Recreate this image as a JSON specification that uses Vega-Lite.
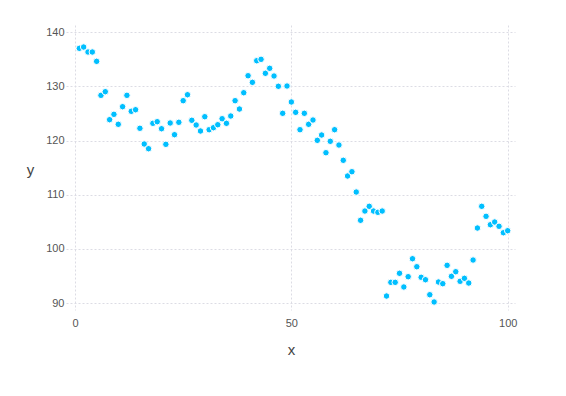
{
  "$schema": "https://vega.github.io/schema/vega-lite/v6.json",
  "autosize": "none",
  "padding": {"left": 66, "top": 25, "right": 51, "bottom": 86},
  "width": 449,
  "height": 285,
  "background": "white",
  "config": {
    "view": {"stroke": null},
    "font": "Liberation Sans"
  },
  "data": {
    "values": [
      {"x": 1, "y": 137.04}, {"x": 2, "y": 137.28}, {"x": 3, "y": 136.36}, {"x": 4, "y": 136.36}, {"x": 5, "y": 134.64},
      {"x": 6, "y": 128.36}, {"x": 7, "y": 129.03}, {"x": 8, "y": 123.86}, {"x": 9, "y": 124.85}, {"x": 10, "y": 123.01},
      {"x": 11, "y": 126.26}, {"x": 12, "y": 128.36}, {"x": 13, "y": 125.41}, {"x": 14, "y": 125.7}, {"x": 15, "y": 122.27},
      {"x": 16, "y": 119.37}, {"x": 17, "y": 118.5}, {"x": 18, "y": 123.19}, {"x": 19, "y": 123.49}, {"x": 20, "y": 122.19},
      {"x": 21, "y": 119.31}, {"x": 22, "y": 123.25}, {"x": 23, "y": 121.09}, {"x": 24, "y": 123.38}, {"x": 25, "y": 127.37},
      {"x": 26, "y": 128.47}, {"x": 27, "y": 123.75}, {"x": 28, "y": 122.88}, {"x": 29, "y": 121.77}, {"x": 30, "y": 124.41},
      {"x": 31, "y": 122.01}, {"x": 32, "y": 122.38}, {"x": 33, "y": 122.93}, {"x": 34, "y": 124.04}, {"x": 35, "y": 123.19},
      {"x": 36, "y": 124.54}, {"x": 37, "y": 127.37}, {"x": 38, "y": 125.83}, {"x": 39, "y": 128.84}, {"x": 40, "y": 131.98},
      {"x": 41, "y": 130.76}, {"x": 42, "y": 134.75}, {"x": 43, "y": 135.01}, {"x": 44, "y": 132.43}, {"x": 45, "y": 133.35},
      {"x": 46, "y": 131.93}, {"x": 47, "y": 130.03}, {"x": 48, "y": 125.04}, {"x": 49, "y": 130.08}, {"x": 50, "y": 127.13},
      {"x": 51, "y": 125.22}, {"x": 52, "y": 122.01}, {"x": 53, "y": 125.04}, {"x": 54, "y": 123.01}, {"x": 55, "y": 123.8},
      {"x": 56, "y": 120.05}, {"x": 57, "y": 121.03}, {"x": 58, "y": 117.76}, {"x": 59, "y": 119.87}, {"x": 60, "y": 122.01},
      {"x": 61, "y": 119.18}, {"x": 62, "y": 116.36}, {"x": 63, "y": 113.46}, {"x": 64, "y": 114.25}, {"x": 65, "y": 110.5},
      {"x": 66, "y": 105.28}, {"x": 67, "y": 106.99}, {"x": 68, "y": 107.86}, {"x": 69, "y": 106.99}, {"x": 70, "y": 106.75},
      {"x": 71, "y": 106.99}, {"x": 72, "y": 91.29}, {"x": 73, "y": 93.82}, {"x": 74, "y": 93.82}, {"x": 75, "y": 95.49},
      {"x": 76, "y": 92.96}, {"x": 77, "y": 94.86}, {"x": 78, "y": 98.18}, {"x": 79, "y": 96.7}, {"x": 80, "y": 94.75},
      {"x": 81, "y": 94.3}, {"x": 82, "y": 91.53}, {"x": 83, "y": 90.19}, {"x": 84, "y": 93.88}, {"x": 85, "y": 93.57},
      {"x": 86, "y": 96.96}, {"x": 87, "y": 94.93}, {"x": 88, "y": 95.78}, {"x": 89, "y": 94.01}, {"x": 90, "y": 94.56},
      {"x": 91, "y": 93.69}, {"x": 92, "y": 97.94}, {"x": 93, "y": 103.85}, {"x": 94, "y": 107.86}, {"x": 95, "y": 106.01},
      {"x": 96, "y": 104.46}, {"x": 97, "y": 104.96}, {"x": 98, "y": 104.17}, {"x": 99, "y": 102.98}, {"x": 100, "y": 103.35}
    ]
  },
  "mark": {
    "type": "point",
    "filled": true,
    "shape": "circle",
    "size": 42,
    "color": "#00bfff",
    "fillOpacity": 1,
    "stroke": "white",
    "strokeWidth": 1,
    "opacity": 1
  },
  "encoding": {
    "x": {
      "field": "x",
      "type": "quantitative",
      "scale": {"domain": [-2.08, 101.69], "nice": false, "zero": false},
      "axis": {
        "values": [0, 50, 100],
        "title": "x",
        "domain": false,
        "ticks": false,
        "grid": true,
        "gridColor": "#dcdce4",
        "gridDash": [2, 2],
        "gridWidth": 1,
        "labelFontSize": 11,
        "labelColor": "#555555",
        "labelPadding": 7,
        "labelFont": "Liberation Sans",
        "titleFont": "Liberation Sans",
        "titleFontSize": 15,
        "titleFontWeight": "normal",
        "titleColor": "#444444",
        "titleBaseline": "middle",
        "titleY": 39,
        "titleX": 225,
        "titleAlign": "center"
      }
    },
    "y": {
      "field": "y",
      "type": "quantitative",
      "scale": {"domain": [88.71, 141.35], "nice": false, "zero": false},
      "axis": {
        "values": [90, 100, 110, 120, 130, 140],
        "title": "y",
        "domain": false,
        "ticks": false,
        "grid": true,
        "gridColor": "#dcdce4",
        "gridDash": [2, 2],
        "gridWidth": 1,
        "labelFontSize": 11,
        "labelColor": "#555555",
        "labelPadding": 2,
        "labelFont": "Liberation Sans",
        "titleFont": "Liberation Sans",
        "titleFontSize": 15,
        "titleFontWeight": "normal",
        "titleColor": "#444444",
        "titleAngle": 0,
        "titleAlign": "center",
        "titleBaseline": "middle",
        "titleX": -36,
        "titleY": 144
      }
    }
  }
}
